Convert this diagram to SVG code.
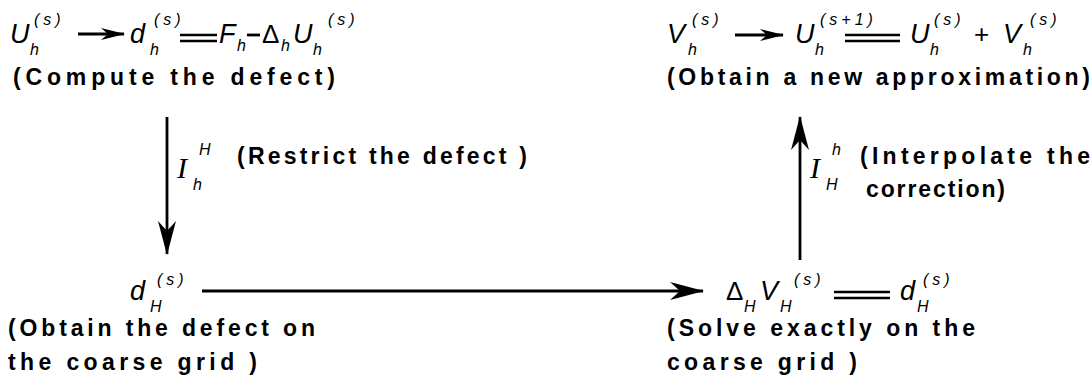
<svg xmlns="http://www.w3.org/2000/svg" width="1092" height="392" viewBox="0 0 1092 392">
<style>
.t{font-family:"Liberation Sans",Arial,sans-serif;font-weight:bold;font-size:23px;fill:#000}
.m{font-family:"Liberation Sans",Arial,sans-serif;font-style:italic;font-size:27px;fill:#000}
.s{font-family:"Liberation Sans",Arial,sans-serif;font-style:italic;font-size:16px;fill:#000}
.p{font-family:"Liberation Sans",Arial,sans-serif;font-style:italic;font-size:16px;fill:#000;letter-spacing:4px}
.u{font-family:"Liberation Sans",Arial,sans-serif;font-size:26px;fill:#000}
.i{font-family:"Liberation Serif","Times New Roman",serif;font-style:italic;font-size:30px;fill:#000}
.ln{stroke:#000;stroke-width:2.8;fill:none}
.eq{stroke:#000;stroke-width:2.6;fill:none}
</style>
<defs>
<marker id="big" viewBox="0 0 34 18" refX="33" refY="9" markerWidth="34" markerHeight="18" markerUnits="userSpaceOnUse" orient="auto">
<path d="M0,0 L34,9 L0,18 L10,9 Z" fill="#000"/>
</marker>
<marker id="sm" viewBox="0 0 24 12" refX="23" refY="6" markerWidth="24" markerHeight="12" markerUnits="userSpaceOnUse" orient="auto">
<path d="M0,0 L24,6 L0,12 L7,6 Z" fill="#000"/>
</marker>
</defs>
<g id="connectors">
<line class="ln" x1="167" y1="117" x2="167" y2="254" marker-end="url(#big)"/>
<line class="ln" x1="202" y1="291" x2="703" y2="291" marker-end="url(#big)"/>
<line class="ln" x1="800" y1="260" x2="800" y2="117" marker-end="url(#big)"/>
</g>
<g id="node-compute">
<text class="m" x="10" y="43">U</text><text class="s" x="30" y="55">h</text><text class="p" x="34" y="25">(s)</text>
<line class="ln" x1="78" y1="34" x2="124" y2="34" marker-end="url(#sm)"/>
<text class="m" x="130" y="43">d</text><text class="s" x="150" y="55">h</text><text class="p" x="154" y="25">(s)</text>
<line class="eq" x1="180" y1="35" x2="217" y2="35"/><line class="eq" x1="180" y1="41" x2="217" y2="41"/>
<text class="m" x="219" y="43">F</text><text class="s" x="237" y="51">h</text>
<line class="ln" x1="247" y1="35" x2="260" y2="35"/>
<text class="u" x="262" y="43">Δ</text><text class="s" x="281" y="51">h</text>
<text class="m" x="293" y="43">U</text><text class="s" x="313" y="55">h</text><text class="p" x="328" y="25">(s)</text>
<text class="t" x="13" y="85" textLength="322" lengthAdjust="spacing">(Compute the defect)</text>
</g>
<g id="node-restrict">
<text class="i" x="177" y="178">I</text><text class="s" x="199" y="155">H</text><text class="s" x="193" y="190">h</text>
<text class="t" x="237" y="164" textLength="290" lengthAdjust="spacing">(Restrict the defect )</text>
</g>
<g id="node-coarse-defect">
<text class="m" x="130" y="300">d</text><text class="s" x="150" y="312">H</text><text class="p" x="157" y="285">(s)</text>
<text class="t" x="8" y="336" textLength="307" lengthAdjust="spacing">(Obtain the defect on</text>
<text class="t" x="8" y="370" textLength="249" lengthAdjust="spacing">the coarse grid )</text>
</g>
<g id="node-solve">
<text class="u" x="726" y="300">Δ</text><text class="s" x="744" y="312">H</text>
<text class="m" x="760" y="300">V</text><text class="s" x="780" y="312">H</text><text class="p" x="794" y="285">(s)</text>
<line class="eq" x1="834" y1="292" x2="890" y2="292"/><line class="eq" x1="834" y1="298" x2="890" y2="298"/>
<text class="m" x="900" y="300">d</text><text class="s" x="917" y="312">H</text><text class="p" x="923" y="285">(s)</text>
<text class="t" x="667" y="336" textLength="308" lengthAdjust="spacing">(Solve  exactly on the</text>
<text class="t" x="667" y="370" textLength="190" lengthAdjust="spacing">coarse grid )</text>
</g>
<g id="node-interpolate">
<text class="i" x="810" y="178">I</text><text class="s" x="832" y="155">h</text><text class="s" x="826" y="190">H</text>
<text class="t" x="860" y="164" textLength="230" lengthAdjust="spacing">(Interpolate the</text>
<text class="t" x="866" y="197" textLength="139" lengthAdjust="spacing">correction)</text>
</g>
<g id="node-new-approx">
<text class="m" x="667" y="43">V</text><text class="s" x="688" y="55">h</text><text class="p" x="692" y="25">(s)</text>
<line class="ln" x1="735" y1="35" x2="783" y2="35" marker-end="url(#sm)"/>
<text class="m" x="795" y="43">U</text><text class="s" x="815" y="55">h</text><text class="p" x="820" y="25">(s+1)</text>
<line class="eq" x1="845" y1="35" x2="900" y2="35"/><line class="eq" x1="845" y1="41" x2="900" y2="41"/>
<text class="m" x="910" y="43">U</text><text class="s" x="930" y="55">h</text><text class="p" x="934" y="25">(s)</text>
<text class="u" x="974" y="43">+</text>
<text class="m" x="1003" y="43">V</text><text class="s" x="1023" y="55">h</text><text class="p" x="1030" y="25">(s)</text>
<text class="t" x="667" y="85" textLength="423" lengthAdjust="spacing">(Obtain a new approximation)</text>
</g>
</svg>
